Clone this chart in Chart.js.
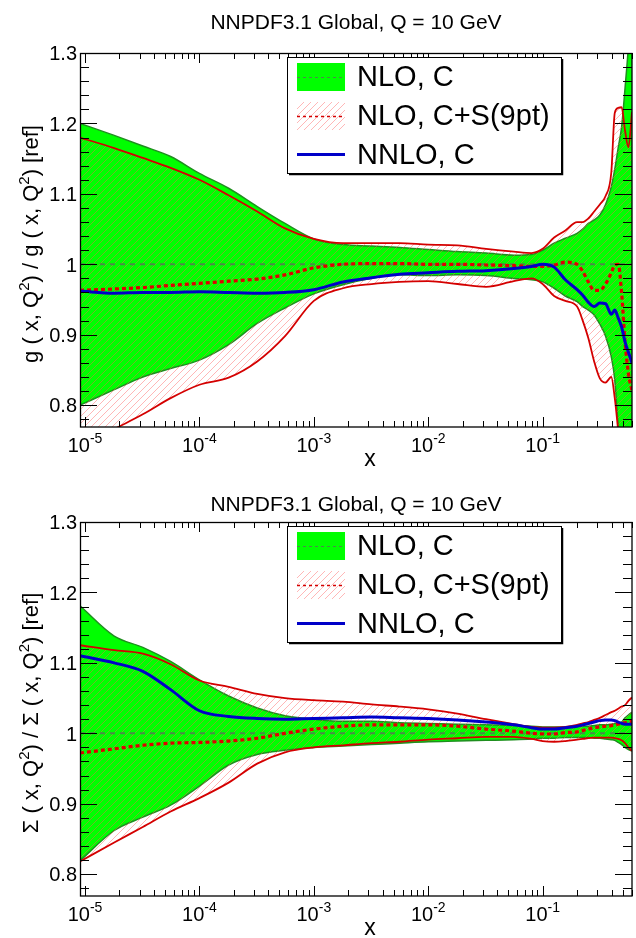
<!DOCTYPE html>
<html><head><meta charset="utf-8">
<script src="https://cdn.jsdelivr.net/npm/chart.js@4.4.1/dist/chart.umd.min.js"></script>
<style>
html,body{margin:0;padding:0;background:#fff;}
canvas{display:block;}
</style></head>
<body>
<canvas id="c1" width="636" height="469"></canvas>
<canvas id="c2" width="636" height="469"></canvas>
<script>
// ---------- data ----------
const xs = [9.04e-6, 1.8e-5, 3.2e-5, 5.6e-5, 1e-4, 1.8e-4, 3.2e-4, 5.6e-4, 1e-3, 1.8e-3, 3.2e-3, 5.6e-3,
            1e-2, 1.8e-2, 3.2e-2, 5.6e-2, 0.08, 0.1, 0.126, 0.158, 0.2, 0.224, 0.251, 0.282, 0.316,
            0.355, 0.398, 0.427, 0.457, 0.49, 0.525, 0.562, 0.604];

// gluon panel
const gNloUp = [1.200, 1.183, 1.168, 1.153, 1.129, 1.108, 1.082, 1.058, 1.036, 1.028, 1.026, 1.024,
                1.021, 1.018, 1.016, 1.013, 1.014, 1.020, 1.030, 1.037, 1.044, 1.050, 1.058, 1.063, 1.070,
                1.085, 1.110, 1.135, 1.165, 1.195, 1.250, 1.310, 1.400];
const gNloLo = [0.800, 0.822, 0.840, 0.852, 0.864, 0.886, 0.916, 0.938, 0.958, 0.971, 0.980, 0.985,
                0.984, 0.985, 0.984, 0.980, 0.978, 0.975, 0.966, 0.955, 0.947, 0.940, 0.935, 0.928, 0.915,
                0.898, 0.869, 0.836, 0.770, 0.700, 0.620, 0.520, 0.420];
const gCsUp  = [1.180, 1.165, 1.151, 1.137, 1.120, 1.098, 1.075, 1.051, 1.036, 1.030, 1.030, 1.030,
                1.028, 1.027, 1.022, 1.018, 1.016, 1.022, 1.038, 1.048, 1.060, 1.060, 1.065, 1.075, 1.085,
                1.097, 1.130, 1.215, 1.222, 1.223, 1.190, 1.166, 1.216];
const gCsLo  = [0.740, 0.766, 0.787, 0.810, 0.829, 0.839, 0.862, 0.898, 0.948, 0.966, 0.972, 0.975,
                0.976, 0.972, 0.968, 0.976, 0.980, 0.972, 0.955, 0.948, 0.940, 0.920, 0.895, 0.862, 0.838,
                0.832, 0.840, 0.810, 0.765, 0.720, 0.680, 0.650, 0.620];
const gCsC   = [0.963, 0.965, 0.967, 0.970, 0.973, 0.976, 0.979, 0.985, 0.995, 1.000, 1.001, 1.001,
                1.000, 1.000, 0.999, 0.998, 0.997, 0.997, 0.999, 1.003, 1.000, 0.990, 0.975, 0.963, 0.963,
                0.972, 0.988, 0.999, 1.000, 0.960, 0.890, 0.845, 0.820];
const gNnlo  = [0.962, 0.959, 0.960, 0.960, 0.961, 0.960, 0.959, 0.960, 0.964, 0.975, 0.981, 0.986,
                0.988, 0.990, 0.991, 0.994, 0.997, 1.000, 0.996, 0.978, 0.964, 0.956, 0.946, 0.940, 0.945,
                0.944, 0.929, 0.935, 0.924, 0.911, 0.890, 0.875, 0.860];

// singlet panel
const sNloUp = [1.181, 1.138, 1.122, 1.102, 1.076, 1.053, 1.036, 1.025, 1.020, 1.017, 1.017, 1.015,
                1.014, 1.013, 1.012, 1.011, 1.010, 1.009, 1.009, 1.009, 1.010, 1.010, 1.010, 1.011, 1.012,
                1.012, 1.013, 1.014, 1.015, 1.016, 1.022, 1.026, 1.030];
const sNloLo = [0.819, 0.862, 0.881, 0.898, 0.925, 0.955, 0.970, 0.976, 0.980, 0.982, 0.984, 0.986,
                0.988, 0.989, 0.990, 0.991, 0.992, 0.993, 0.993, 0.994, 0.994, 0.994, 0.994, 0.993, 0.993,
                0.992, 0.991, 0.990, 0.987, 0.984, 0.980, 0.977, 0.975];
const sCsUp  = [1.125, 1.118, 1.113, 1.098, 1.075, 1.066, 1.056, 1.050, 1.047, 1.045, 1.041, 1.038,
                1.034, 1.028, 1.020, 1.013, 1.009, 1.008, 1.008, 1.009, 1.012, 1.014, 1.016, 1.019, 1.022,
                1.026, 1.030, 1.032, 1.035, 1.038, 1.040, 1.046, 1.051];
const sCsLo  = [0.818, 0.845, 0.867, 0.889, 0.908, 0.930, 0.957, 0.973, 0.980, 0.983, 0.986, 0.988,
                0.991, 0.993, 0.995, 0.995, 0.992, 0.989, 0.988, 0.989, 0.991, 0.992, 0.993, 0.994, 0.994,
                0.994, 0.994, 0.993, 0.992, 0.990, 0.986, 0.980, 0.975];
const sCsC   = [0.972, 0.978, 0.983, 0.986, 0.987, 0.989, 0.993, 1.000, 1.006, 1.010, 1.012, 1.012,
                1.012, 1.010, 1.006, 1.003, 1.000, 0.999, 0.999, 1.001, 1.002, 1.004, 1.006, 1.008, 1.009,
                1.010, 1.011, 1.012, 1.013, 1.014, 1.015, 1.016, 1.017];
const sNnlo  = [1.110, 1.100, 1.088, 1.062, 1.032, 1.024, 1.021, 1.020, 1.021, 1.022, 1.023, 1.022,
                1.021, 1.019, 1.016, 1.012, 1.008, 1.006, 1.006, 1.008, 1.010, 1.012, 1.014, 1.016, 1.018,
                1.019, 1.019, 1.018, 1.016, 1.014, 1.013, 1.013, 1.013];

// reference (NLO, C central = 1)
const refXs = [9.04e-6, 0.604];
const refRatio = [1, 1];

// axis / labels
const xMajor = [1e-5, 1e-4, 1e-3, 1e-2, 1e-1];
const xExp = ['-5', '-4', '-3', '-2', '-1'];
const yMajor = [0.8, 0.9, 1.0, 1.1, 1.2, 1.3];
const yLabels = ['0.8', '0.9', '1', '1.1', '1.2', '1.3'];
const legendLabels = ['NLO, C', 'NLO, C+S(9pt)', 'NNLO, C'];
const titleText = 'NNPDF3.1 Global, Q = 10 GeV';
const xTitle = 'x';
const yTitleTop = ['g ( x, Q', '2', ') / g ( x, Q', '2', ') [ref]'];
const yTitleBottom = ['\u03A3 ( x, Q', '2', ') / \u03A3 ( x, Q', '2', ') [ref]'];

// ---------- style ----------
const F = '"Liberation Sans", Arial, Helvetica, sans-serif';
const GREEN = '#00ff00';
const GREEN_EDGE = '#1f8f1f';
const REF_GREEN = '#4a8a4a';
const RED = '#d40000';
const BLUE = '#0000c8';
const xMin = 9.04e-6, xMax = 0.604, yMin = 0.769, yMax = 1.3;

function makeHatch(ctx) {
  const n = 7;
  const c = document.createElement('canvas'); c.width = n; c.height = n;
  const g = c.getContext('2d');
  g.strokeStyle = 'rgba(255,90,90,0.55)'; g.lineWidth = 0.8;
  g.beginPath();
  g.moveTo(-1, n + 1); g.lineTo(n + 1, -1);
  g.moveTo(-1, 1); g.lineTo(1, -1);
  g.moveTo(n - 1, n + 1); g.lineTo(n + 1, n - 1);
  g.stroke();
  return ctx.createPattern(c, 'repeat');
}

function pts(arr) { return xs.map((x, i) => ({ x: x, y: arr[i] })); }

function drawRich(ctx, parts, big, small, raise) {
  let w = 0;
  parts.forEach((p, i) => { ctx.font = (i % 2 ? small : big); w += ctx.measureText(p).width; });
  let cx = -w / 2;
  parts.forEach((p, i) => {
    ctx.font = (i % 2 ? small : big);
    ctx.fillText(p, cx, i % 2 ? -raise : 0);
    cx += ctx.measureText(p).width;
  });
}

function decorate(chart, cfg) {
  const ctx = chart.ctx, a = chart.chartArea, xs_ = chart.scales.x, ys_ = chart.scales.y;
  ctx.save();
  ctx.strokeStyle = '#000'; ctx.fillStyle = '#000';
  ctx.lineWidth = 1;
  // y ticks
  for (let k = 0; k <= 30; k++) {
    const v = 0.76 + 0.02 * k;
    if (v < yMin - 1e-9 || v > yMax + 1e-9) continue;
    const py = Math.round(ys_.getPixelForValue(v)) + 0.5;
    const major = Math.abs(v * 10 - Math.round(v * 10)) < 1e-6;
    const len = major ? 17 : 9;
    ctx.beginPath();
    ctx.moveTo(a.left, py); ctx.lineTo(a.left + len, py);
    ctx.moveTo(a.right, py); ctx.lineTo(a.right - len, py);
    ctx.stroke();
  }
  // x ticks
  for (let e = -6; e <= 0; e++) {
    for (let k = 1; k <= 9; k++) {
      const v = k * Math.pow(10, e);
      if (v < xMin || v > xMax) continue;
      const px = Math.round(xs_.getPixelForValue(v)) + 0.5;
      const len = k === 1 ? 10 : 6;
      ctx.beginPath();
      ctx.moveTo(px, a.bottom); ctx.lineTo(px, a.bottom - len);
      ctx.moveTo(px, a.top); ctx.lineTo(px, a.top + len);
      ctx.stroke();
    }
  }
  // frame
  ctx.lineWidth = 1.3;
  ctx.strokeRect(a.left + 0.5, a.top + 0.5, a.right - a.left - 0.5, a.bottom - a.top - 0.5);

  // y tick labels
  ctx.font = '20px ' + F; ctx.textAlign = 'right'; ctx.textBaseline = 'alphabetic';
  yMajor.forEach((v, i) => {
    ctx.fillText(yLabels[i], 77, ys_.getPixelForValue(v) + 7.3);
  });
  // x tick labels
  ctx.textAlign = 'left';
  xMajor.forEach((v, i) => {
    const px = xs_.getPixelForValue(v);
    ctx.font = '20px ' + F; const w1 = ctx.measureText('10').width;
    ctx.font = '14px ' + F; const w2 = ctx.measureText(xExp[i]).width;
    const st = px - (w1 + w2) / 2;
    ctx.font = '20px ' + F; ctx.fillText('10', st, a.bottom + 25);
    ctx.font = '14px ' + F; ctx.fillText(xExp[i], st + w1, a.bottom + 16);
  });
  // x title
  ctx.font = '23px ' + F; ctx.textAlign = 'center';
  ctx.fillText(xTitle, 370, a.bottom + 39);
  // title
  ctx.font = '21px ' + F;
  ctx.fillText(titleText, (a.left + a.right) / 2, cfg.titleY);
  // y title (rotated)
  ctx.save();
  ctx.translate(37.5, (a.top + a.bottom) / 2 + 4);
  ctx.rotate(-Math.PI / 2);
  ctx.textAlign = 'left';
  drawRich(ctx, cfg.yTitle, '22px ' + F, '15px ' + F, 9);
  ctx.restore();

  // legend
  const L = 287, T = 57, R = 562, B = 174;
  ctx.fillStyle = '#fff'; ctx.fillRect(L, T, R - L, B - T);
  ctx.strokeStyle = '#000'; ctx.lineWidth = 1;
  ctx.strokeRect(L + 0.5, T + 0.5, R - L - 1, B - T - 1);
  ctx.lineWidth = 1.5;
  ctx.beginPath(); ctx.moveTo(R + 0.5, T + 2); ctx.lineTo(R + 0.5, B + 0.5); ctx.lineTo(L + 2, B + 0.5); ctx.stroke();
  // entry 1
  ctx.fillStyle = GREEN; ctx.fillRect(297, 63, 48, 28);
  ctx.strokeStyle = REF_GREEN; ctx.lineWidth = 1.2; ctx.setLineDash([3, 3]);
  ctx.beginPath(); ctx.moveTo(297, 77.5); ctx.lineTo(345, 77.5); ctx.stroke();
  // entry 2
  ctx.fillStyle = cfg.hatch; ctx.fillRect(297, 102, 48, 28);
  ctx.strokeStyle = RED; ctx.lineWidth = 1.5;
  ctx.beginPath(); ctx.moveTo(297, 116.5); ctx.lineTo(345, 116.5); ctx.stroke();
  ctx.setLineDash([]);
  // entry 3
  ctx.strokeStyle = BLUE; ctx.lineWidth = 3;
  ctx.beginPath(); ctx.moveTo(297, 154.5); ctx.lineTo(345, 154.5); ctx.stroke();
  ctx.fillStyle = '#000'; ctx.font = '29px ' + F; ctx.textAlign = 'left';
  ctx.fillText(legendLabels[0], 357, 86);
  ctx.fillText(legendLabels[1], 357, 125);
  ctx.fillText(legendLabels[2], 357, 164);
  ctx.restore();
}

function build(id, s, cfg) {
  const cv = document.getElementById(id);
  const ctx = cv.getContext('2d');
  const hatch = makeHatch(ctx);
  cfg.hatch = hatch;
  const line = (arr, extra) => Object.assign({
    data: pts(arr), pointRadius: 0, fill: false, clip: 0,
    cubicInterpolationMode: 'monotone', borderJoinStyle: 'round'
  }, extra);
  return new Chart(ctx, {
    type: 'line',
    data: {
      datasets: [
        line(s.nloUp, { fill: '+1', backgroundColor: GREEN, borderColor: GREEN_EDGE, borderWidth: 1.5, order: 10 }),
        line(s.nloLo, { borderColor: GREEN_EDGE, borderWidth: 1.5, order: 9 }),
        line(s.csUp, { fill: '+1', backgroundColor: hatch, borderColor: RED, borderWidth: 1.8, order: 8 }),
        line(s.csLo, { borderColor: RED, borderWidth: 1.8, order: 7 }),
        { data: refXs.map((x, i) => ({ x: x, y: refRatio[i] })), pointRadius: 0, fill: false, clip: 0,
          borderColor: REF_GREEN, borderDash: [5, 5], borderWidth: 2, order: 6 },
        line(s.csC, { borderColor: '#e00000', borderDash: [4, 3], borderWidth: 3.2, order: 5 }),
        line(s.nnlo, { borderColor: BLUE, borderWidth: 3, order: 4 })
      ]
    },
    options: {
      responsive: false, animation: false, devicePixelRatio: 1,
      layout: { padding: { left: 80, right: 4, top: 53, bottom: 42 } },
      plugins: { legend: { display: false }, tooltip: { enabled: false }, title: { display: false } },
      scales: {
        x: { type: 'logarithmic', min: xMin, max: xMax, display: false },
        y: { type: 'linear', min: yMin, max: yMax, display: false }
      }
    },
    plugins: [{ id: 'deco', afterDraw: (ch) => decorate(ch, cfg) }]
  });
}

build('c1', { nloUp: gNloUp, nloLo: gNloLo, csUp: gCsUp, csLo: gCsLo, csC: gCsC, nnlo: gNnlo },
      { titleY: 29, yTitle: yTitleTop });
build('c2', { nloUp: sNloUp, nloLo: sNloLo, csUp: sCsUp, csLo: sCsLo, csC: sCsC, nnlo: sNnlo },
      { titleY: 42, yTitle: yTitleBottom });
</script>
</body></html>
